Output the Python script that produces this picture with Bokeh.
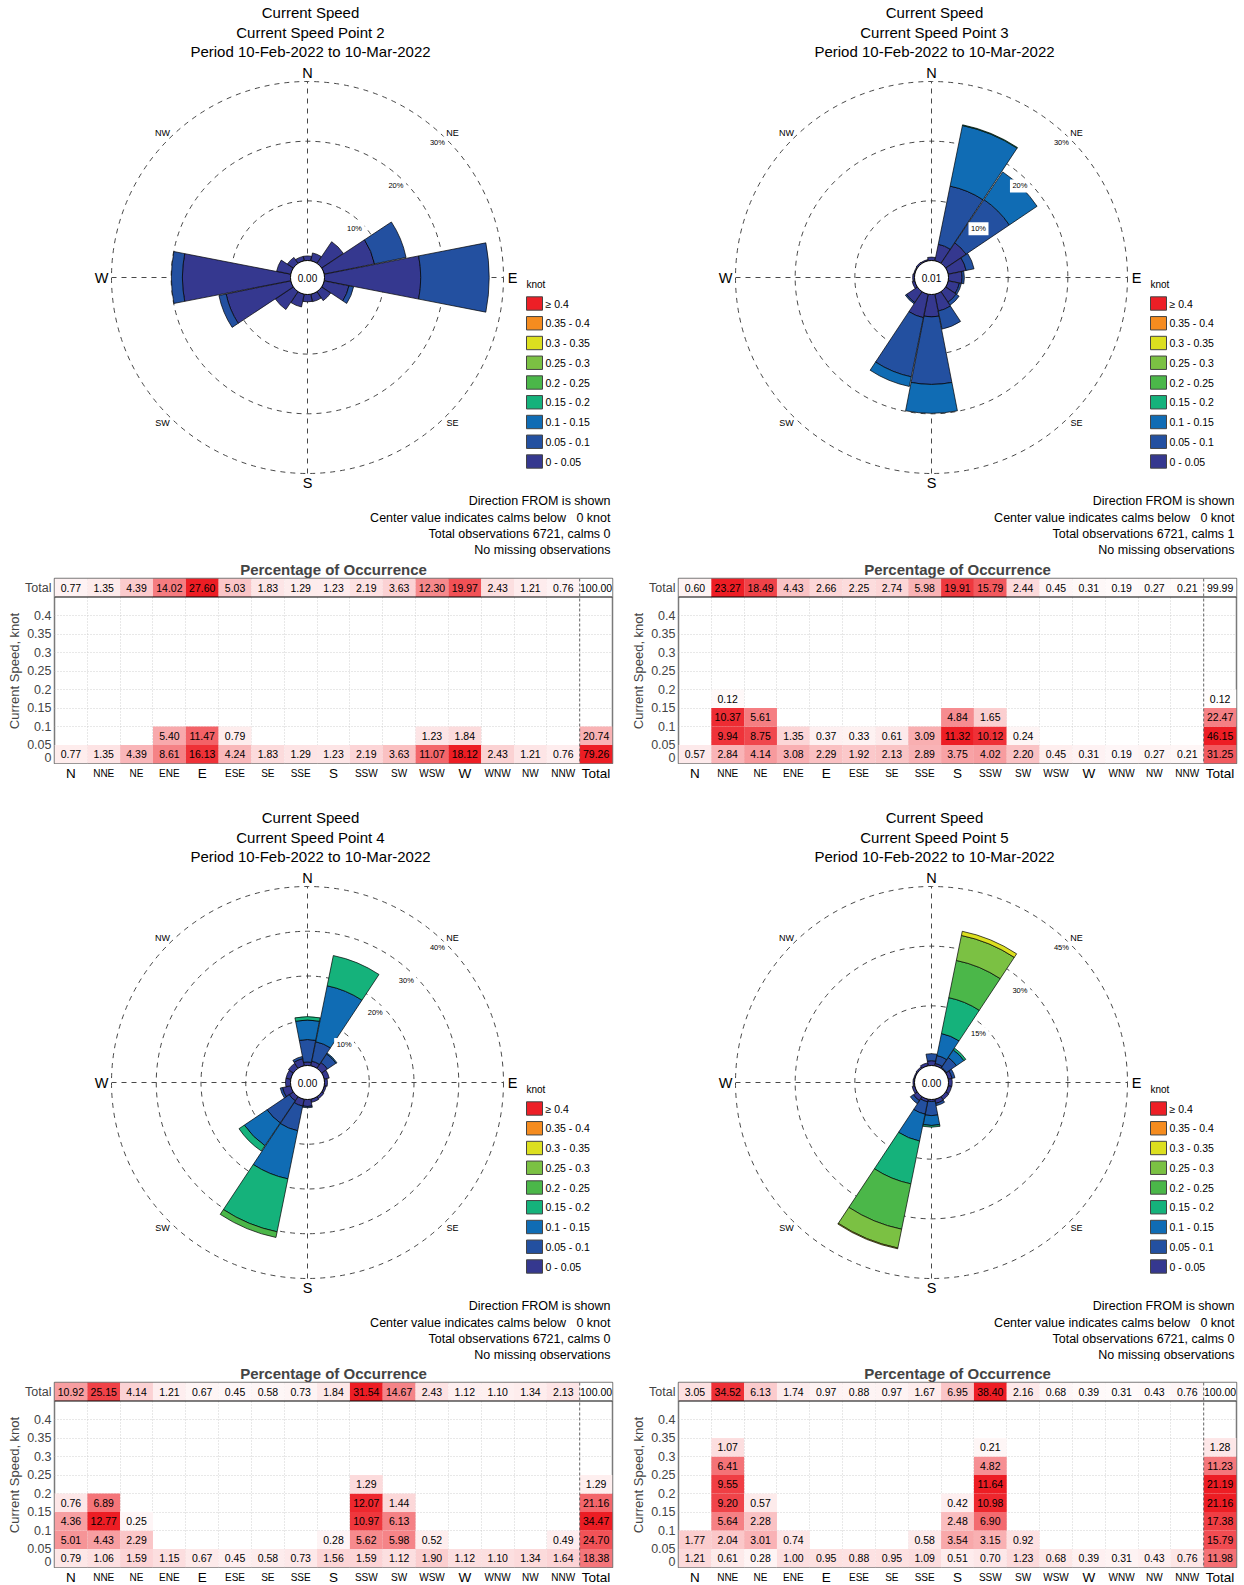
import numpy as np
from bokeh.plotting import figure
from bokeh.layouts import column, row
from bokeh.models import Range1d, FixedTicker, Span, ColumnDataSource
from bokeh.core.properties import value
from bokeh.embed import file_html
from bokeh.resources import INLINE

FONT = "Liberation Sans"

# ---------------- data ----------------
directions = ["N", "NNE", "NE", "ENE", "E", "ESE", "SE", "SSE",
              "S", "SSW", "SW", "WSW", "W", "WNW", "NW", "NNW"]
dir_bearings = [0.0, 22.5, 45.0, 67.5, 90.0, 112.5, 135.0, 157.5,
                180.0, 202.5, 225.0, 247.5, 270.0, 292.5, 315.0, 337.5]
cardinal_labels = ["N", "E", "S", "W"]
total_label = "Total"
speed_bin_labels = ["0 - 0.05", "0.05 - 0.1", "0.1 - 0.15", "0.15 - 0.2", "0.2 - 0.25",
                    "0.25 - 0.3", "0.3 - 0.35", "0.35 - 0.4", "\u2265 0.4"]
speed_bin_lower = [0.0, 0.05, 0.10, 0.15, 0.20, 0.25, 0.30, 0.35, 0.40]
speed_bin_colors = ["#35388f", "#2350a0", "#106cb4", "#15b27b", "#4bb749",
                    "#7bc143", "#dcdf1f", "#f58c1f", "#ed1f26"]
speed_ticks = [0, 0.05, 0.1, 0.15, 0.2, 0.25, 0.3, 0.35, 0.4]
speed_tick_labels = ["0", "0.05", "0.1", "0.15", "0.2", "0.25", "0.3", "0.35", "0.4"]
period_text = "Period 10-Feb-2022 to 10-Mar-2022"

# Point 2
p2_b0 = [0.77, 1.35, 4.39, 8.61, 16.13, 4.24, 1.83, 1.29, 1.23, 2.19, 3.63, 11.07, 18.12, 2.43, 1.21, 0.76]
p2_b1 = [0, 0, 0, 5.40, 11.47, 0.79, 0, 0, 0, 0, 0, 1.23, 1.84, 0, 0, 0]
p2_dir_total = [0.77, 1.35, 4.39, 14.02, 27.60, 5.03, 1.83, 1.29, 1.23, 2.19, 3.63, 12.30, 19.97, 2.43, 1.21, 0.76]
p2_speed_total = [79.26, 20.74]
p2_grand = 100.00
p2_circles = [10, 20, 30]

# Point 3
p3_b0 = [0.57, 2.84, 4.14, 3.08, 2.29, 1.92, 2.13, 2.89, 3.75, 4.02, 2.20, 0.45, 0.31, 0.19, 0.27, 0.21]
p3_b1 = [0, 9.94, 8.75, 1.35, 0.37, 0.33, 0.61, 3.09, 11.32, 10.12, 0.24, 0, 0, 0, 0, 0]
p3_b2 = [0, 10.37, 5.61, 0, 0, 0, 0, 0, 4.84, 1.65, 0, 0, 0, 0, 0, 0]
p3_b3 = [0, 0.12, 0, 0, 0, 0, 0, 0, 0, 0, 0, 0, 0, 0, 0, 0]
p3_dir_total = [0.60, 23.27, 18.49, 4.43, 2.66, 2.25, 2.74, 5.98, 19.91, 15.79, 2.44, 0.45, 0.31, 0.19, 0.27, 0.21]
p3_speed_total = [31.25, 46.15, 22.47, 0.12]
p3_grand = 99.99
p3_circles = [10, 20, 30]

# Point 4
p4_b0 = [0.79, 1.06, 1.59, 1.15, 0.67, 0.45, 0.58, 0.73, 1.56, 1.59, 1.12, 1.90, 1.12, 1.10, 1.34, 1.64]
p4_b1 = [5.01, 4.43, 2.29, 0, 0, 0, 0, 0, 0.28, 5.62, 5.98, 0.52, 0, 0, 0, 0.49]
p4_b2 = [4.36, 12.77, 0.25, 0, 0, 0, 0, 0, 0, 10.97, 6.13, 0, 0, 0, 0, 0]
p4_b3 = [0.76, 6.89, 0, 0, 0, 0, 0, 0, 0, 12.07, 1.44, 0, 0, 0, 0, 0]
p4_b4 = [0, 0, 0, 0, 0, 0, 0, 0, 0, 1.29, 0, 0, 0, 0, 0, 0]
p4_dir_total = [10.92, 25.15, 4.14, 1.21, 0.67, 0.45, 0.58, 0.73, 1.84, 31.54, 14.67, 2.43, 1.12, 1.10, 1.34, 2.13]
p4_speed_total = [18.38, 24.70, 34.47, 21.16, 1.29]
p4_grand = 100.00
p4_circles = [10, 20, 30, 40]

# Point 5
p5_b0 = [1.21, 0.61, 0.28, 1.00, 0.95, 0.88, 0.95, 1.09, 0.51, 0.70, 1.23, 0.68, 0.39, 0.31, 0.43, 0.76]
p5_b1 = [1.77, 2.04, 3.01, 0.74, 0, 0, 0, 0.58, 3.54, 3.15, 0.92, 0, 0, 0, 0, 0]
p5_b2 = [0, 5.64, 2.28, 0, 0, 0, 0, 0, 2.48, 6.90, 0, 0, 0, 0, 0, 0]
p5_b3 = [0, 9.20, 0.57, 0, 0, 0, 0, 0, 0.42, 10.98, 0, 0, 0, 0, 0, 0]
p5_b4 = [0, 9.55, 0, 0, 0, 0, 0, 0, 0, 11.64, 0, 0, 0, 0, 0, 0]
p5_b5 = [0, 6.41, 0, 0, 0, 0, 0, 0, 0, 4.82, 0, 0, 0, 0, 0, 0]
p5_b6 = [0, 1.07, 0, 0, 0, 0, 0, 0, 0, 0.21, 0, 0, 0, 0, 0, 0]
p5_dir_total = [3.05, 34.52, 6.13, 1.74, 0.97, 0.88, 0.97, 1.67, 6.95, 38.40, 2.16, 0.68, 0.39, 0.31, 0.43, 0.76]
p5_speed_total = [11.98, 15.79, 17.38, 21.16, 21.19, 11.23, 1.28]
p5_grand = 100.00
p5_circles = [15, 30, 45]


def pad_bins(lists):
    out = [list(l) for l in lists]
    while len(out) < len(speed_bin_lower):
        out.append([0.0] * len(directions))
    return out


points = [
    dict(name="Current Speed Point 2", bins=pad_bins([p2_b0, p2_b1]), dir_total=p2_dir_total,
         speed_total=p2_speed_total, grand=p2_grand, calm="0.00", calms=0, circles=p2_circles),
    dict(name="Current Speed Point 3", bins=pad_bins([p3_b0, p3_b1, p3_b2, p3_b3]), dir_total=p3_dir_total,
         speed_total=p3_speed_total, grand=p3_grand, calm="0.01", calms=1, circles=p3_circles),
    dict(name="Current Speed Point 4", bins=pad_bins([p4_b0, p4_b1, p4_b2, p4_b3, p4_b4]), dir_total=p4_dir_total,
         speed_total=p4_speed_total, grand=p4_grand, calm="0.00", calms=0, circles=p4_circles),
    dict(name="Current Speed Point 5", bins=pad_bins([p5_b0, p5_b1, p5_b2, p5_b3, p5_b4, p5_b5, p5_b6]),
         dir_total=p5_dir_total, speed_total=p5_speed_total, grand=p5_grand, calm="0.00", calms=0,
         circles=p5_circles),
]

# ---------------- geometry / style ----------------
R0 = 17.0
R_OUT = 196.0
HALF_W = 11.0
RED = (237, 29, 36)


def txt(p, x, y, t, size, align="center", baseline="middle", style="normal", color="black"):
    p.text(x=x, y=y, text=t, text_align=align, text_baseline=baseline,
           text_font=value(FONT), text_font_size=value(size), text_font_style=style,
           text_color=color)


def make_rose(pt, x_left, width, y_top, height):
    p = figure(width=width, height=height, x_range=Range1d(x_left, x_left + width),
               y_range=Range1d(y_top - height, y_top), output_backend="svg", toolbar_location=None,
               x_axis_location=None, y_axis_location=None, min_border=0)
    p.outline_line_color = None
    p.grid.visible = False

    txt(p, [3, 3, 3], [265, 245, 226], ["Current Speed", pt["name"], period_text], "15px")

    k = (R_OUT - R0) / max(pt["circles"])
    radii = [R0 + k * c for c in pt["circles"]]
    p.circle(x=[0] * len(radii), y=[0] * len(radii), radius=radii, fill_color=None,
             line_color="#333333", line_dash="5 5", line_width=0.9)
    p.segment(x0=[-R_OUT, 0], y0=[0, -R_OUT], x1=[R_OUT, 0], y1=[0, R_OUT],
              line_color="#333333", line_dash="5 5", line_width=0.9)

    cum = np.zeros(len(directions))
    brg = np.array(dir_bearings)
    for bi, vals in enumerate(pt["bins"]):
        v = np.array(vals, dtype=float)
        m = v > 0
        if m.any():
            src = ColumnDataSource(dict(
                ri=list(R0 + k * cum[m]), ro=list(R0 + k * (cum[m] + v[m])),
                a0=list(np.radians(90 - brg[m] - HALF_W)), a1=list(np.radians(90 - brg[m] + HALF_W)),
                x=[0.0] * int(m.sum()), y=[0.0] * int(m.sum())))
            p.annular_wedge(x="x", y="y", inner_radius="ri", outer_radius="ro",
                            start_angle="a0", end_angle="a1", source=src,
                            fill_color=speed_bin_colors[bi], line_color="black", line_width=0.7)
        cum = cum + v

    p.circle(x=[0], y=[0], radius=R0, fill_color="white", line_color="black", line_width=1)
    txt(p, [0], [0], [pt["calm"]], "10px")

    ang = np.radians(44.0)
    lx = [(r - 9) * np.sin(ang) for r in radii]
    ly = [(r - 9) * np.cos(ang) for r in radii]
    p.rect(x=lx, y=ly, width=20, height=13, fill_color="white", line_color=None)
    txt(p, lx, ly, ["%d%%" % c for c in pt["circles"]], "7.5px")

    txt(p, [0, 205, 0, -206], [205, 0, -205, 0], cardinal_labels, "14.5px")
    txt(p, [145, -145, -145, 145], [145, 145, -145, -145], ["NE", "NW", "SW", "SE"], "9px")

    txt(p, [219], [-7], ["knot"], "10px", align="left")
    n = len(speed_bin_labels)
    ly = [-26 - 19.75 * i for i in range(n)]
    cols = list(reversed(speed_bin_colors))
    labs = list(reversed(speed_bin_labels))
    p.quad(left=[219] * n, right=[235] * n, top=[y + 6.7 for y in ly], bottom=[y - 6.7 for y in ly],
           fill_color=cols, line_color="#444444", line_width=1)
    txt(p, [238] * n, ly, labs, "10.5px", align="left")

    notes = ["Direction FROM is shown",
             "Center value indicates calms below\u00a0\u00a0 0 knot",
             "Total observations 6721, calms %d" % pt["calms"],
             "No missing observations"]
    txt(p, [303] * 4, [-223, -240, -256, -272], notes, "12.5px", align="right")
    return p


def heat_color(v, vmax):
    t = min(1.0, (v / vmax) ** 0.8) if vmax > 0 else 0.0
    r = int(round(255 + (RED[0] - 255) * t))
    g = int(round(255 + (RED[1] - 255) * t))
    b = int(round(255 + (RED[2] - 255) * t))
    return "#%02x%02x%02x" % (r, g, b)


TOTAL_ROW_Y = 0.475
NCOL = len(directions) + 1


def make_table(pt, left, right, width):
    p = figure(width=width, height=207, x_range=Range1d(0, NCOL), y_range=Range1d(0, 0.5),
               output_backend="svg", toolbar_location=None, title="Percentage of Occurrence",
               x_axis_location=None,
               min_border_left=left, min_border_right=right, min_border_top=21,
               min_border_bottom=1)
    p.title.align = "center"
    p.title.text_font = FONT
    p.title.text_font_size = "15px"
    p.title.text_font_style = "bold"
    p.title.standoff = 2
    p.outline_line_color = "#7a7a7a"
    p.outline_line_width = 1.5

    yax = p.yaxis[0]
    yax.ticker = FixedTicker(ticks=speed_ticks + [TOTAL_ROW_Y])
    ov = dict(zip(speed_ticks, speed_tick_labels))
    ov[TOTAL_ROW_Y] = total_label
    yax.major_label_overrides = ov
    yax.major_label_text_font = FONT
    yax.major_label_text_font_size = "12.5px"
    yax.major_label_standoff = 3
    yax.major_tick_line_color = None
    yax.minor_tick_line_color = None
    yax.major_tick_out = 0
    yax.major_tick_in = 0
    yax.minor_tick_out = 0
    yax.minor_tick_in = 0
    yax.axis_line_color = None
    yax.axis_label = "Current Speed, knot"
    yax.axis_label_text_font = FONT
    yax.axis_label_text_font_size = "13px"
    yax.axis_label_text_font_style = "normal"
    yax.axis_label_standoff = 0

    p.xgrid.ticker = FixedTicker(ticks=list(range(1, len(directions))))
    p.ygrid.ticker = FixedTicker(ticks=speed_ticks[1:])
    p.grid.grid_line_color = "#c4c4c4"
    p.grid.grid_line_dash = "1 2"
    p.grid.grid_line_width = 0.8

    xs, ys, cs, ts = [], [], [], []
    main_max = max(max(b) for b in pt["bins"])
    for bi, b in enumerate(pt["bins"]):
        for di, v in enumerate(b):
            if v > 0:
                xs.append(di + 0.5); ys.append(speed_bin_lower[bi] + 0.025)
                cs.append(heat_color(v, main_max)); ts.append("%.2f" % v)
    dmax = max(pt["dir_total"])
    for di, v in enumerate(pt["dir_total"]):
        xs.append(di + 0.5); ys.append(TOTAL_ROW_Y)
        cs.append(heat_color(v, dmax)); ts.append("%.2f" % v)
    smax = max(pt["speed_total"])
    for bi, v in enumerate(pt["speed_total"]):
        if v > 0:
            xs.append(len(directions) + 0.5); ys.append(speed_bin_lower[bi] + 0.025)
            cs.append(heat_color(v, smax)); ts.append("%.2f" % v)
    xs.append(len(directions) + 0.5); ys.append(TOTAL_ROW_Y)
    cs.append("#ffffff"); ts.append("%.2f" % pt["grand"])

    src = ColumnDataSource(dict(x=xs, y=ys, c=cs, t=ts))
    p.rect(x="x", y="y", width=1, height=0.05, fill_color="c", line_color=None, source=src)
    p.text(x="x", y="y", text="t", text_align="center", text_baseline="middle",
           text_font=value(FONT), text_font_size=value("10.5px"), text_color="black", source=src)

    p.add_layout(Span(location=0.45, dimension="width", line_color="black", line_width=1.2))
    p.add_layout(Span(location=len(directions), dimension="height", line_color="#666666",
                      line_dash="3 2", line_width=1))
    return p


def make_xlabels(table, left, right, width, height):
    # direction labels strip below the table, sharing its x scale
    p = figure(width=width, height=height, x_range=table.x_range, y_range=Range1d(-(height - 9), 9),
               output_backend="svg", toolbar_location=None, x_axis_location=None,
               y_axis_location=None, min_border_left=left, min_border_right=right,
               min_border_top=0, min_border_bottom=0)
    p.outline_line_color = None
    p.grid.visible = False
    labs = directions + [total_label]
    xs = [i + 0.5 for i in range(len(labs))]
    sizes = ["13.5px" if (l in cardinal_labels or l == total_label) else "10px" for l in labs]
    src = ColumnDataSource(dict(x=xs, y=[0] * len(labs), t=labs, s=sizes))
    p.text(x="x", y="y", text="t", text_font_size="s", text_align="center", text_baseline="middle",
           text_font=value(FONT), text_color="black", source=src)
    return p


r1 = make_rose(points[0], -307, 622, 277, 557)
r2 = make_rose(points[1], -309, 622, 277, 557)
t1 = make_table(points[0], 54, 10, 622)
t2 = make_table(points[1], 56, 8, 622)
x1 = make_xlabels(t1, 54, 10, 622, 40)
x2 = make_xlabels(t2, 56, 8, 622, 40)
r3 = make_rose(points[2], -307, 622, 278, 557)
r4 = make_rose(points[3], -309, 622, 278, 557)
t3 = make_table(points[2], 54, 10, 622)
t4 = make_table(points[3], 56, 8, 622)
x3 = make_xlabels(t3, 54, 10, 622, 17)
x4 = make_xlabels(t4, 56, 8, 622, 17)

layout = column(row(r1, r2), row(t1, t2), row(x1, x2),
                row(r3, r4), row(t3, t4), row(x3, x4))

open("out.html", "w").write(file_html(layout, INLINE))
